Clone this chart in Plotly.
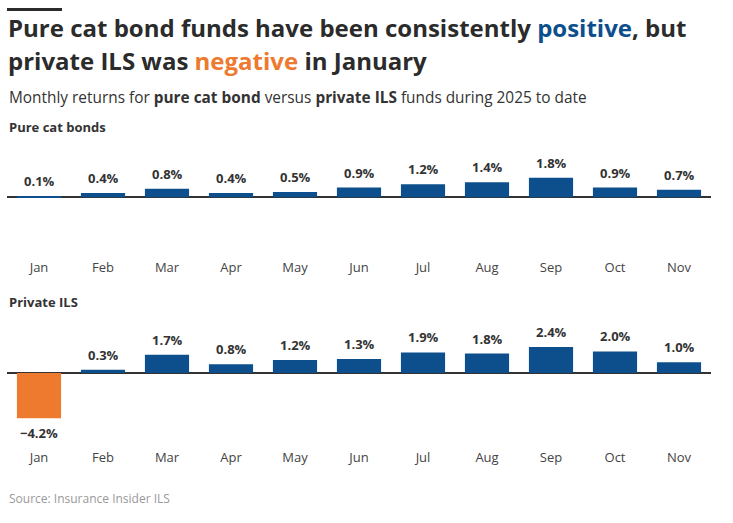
import plotly.graph_objects as go
from plotly.subplots import make_subplots

months = ["Jan", "Feb", "Mar", "Apr", "May", "Jun", "Jul", "Aug", "Sep", "Oct", "Nov"]
pure_cat = [0.1, 0.4, 0.8, 0.4, 0.5, 0.9, 1.2, 1.4, 1.8, 0.9, 0.7]
private_ils = [-4.2, 0.3, 1.7, 0.8, 1.2, 1.3, 1.9, 1.8, 2.4, 2.0, 1.0]

BLUE = "#0c4f8c"
ORANGE = "#ed7a2f"
TXT = "#333333"
FONT = "Open Sans"

W, H = 733, 523
ML, MR = 7, 22


def py(px):
    return 1 - px / H


def pxx(px):
    return (px - ML) / (W - ML - MR)


fig = make_subplots(rows=2, cols=1, shared_xaxes=False)

for row, vals in ((1, pure_cat), (2, private_ils)):
    colors = [ORANGE if v < 0 else BLUE for v in vals]
    fig.add_trace(go.Bar(x=months, y=vals, marker_color=colors, marker_line_width=0,
                         hoverinfo="x+y", showlegend=False), row=row, col=1)

# domains (pixel based)
PXPER = 10.8
top_dom = (140, 258, 197.3)
bot_dom = (315, 448, 373)
for i, (t, b, z) in enumerate((top_dom, bot_dom), start=1):
    ya = "yaxis" if i == 1 else "yaxis2"
    xa = "xaxis" if i == 1 else "xaxis2"
    fig.layout[ya].update(domain=[py(b), py(t)], range=[-(b - z) / PXPER, (z - t) / PXPER],
                          showgrid=False, showticklabels=False, zeroline=True,
                          zerolinecolor="#333333", zerolinewidth=1.5, fixedrange=True)
    fig.layout[xa].update(showgrid=False, showline=False, ticks="",
                          tickfont=dict(family=FONT, size=13, color="#444444"), fixedrange=True)

annotations = []
for row, vals in ((1, pure_cat), (2, private_ils)):
    xr = "x" if row == 1 else "x2"
    yr = "y" if row == 1 else "y2"
    for m, v in zip(months, vals):
        label = ("\u2212" if v < 0 else "") + f"{abs(v):.1f}%"
        annotations.append(dict(x=m, y=v, xref=xr, yref=yr, text=f"<b>{label}</b>",
                                showarrow=False, yanchor="middle",
                                yshift=15 if v >= 0 else -15,
                                font=dict(family=FONT, size=13, color=TXT)))

annotations += [
    dict(x=pxx(6), y=py(28), xref="paper", yref="paper", xanchor="left", yanchor="middle",
         text="<b>Pure cat bond funds have been consistently <span style='color:#0c4f8c'>positive</span>, but</b>",
         showarrow=False, font=dict(family=FONT, size=24, color="#2b2b2b")),
    dict(x=pxx(6), y=py(61), xref="paper", yref="paper", xanchor="left", yanchor="middle",
         text="<b>private ILS was <span style='color:#ed7a2f'>negative</span> in January</b>",
         showarrow=False, font=dict(family=FONT, size=24, color="#2b2b2b")),
    dict(x=0, y=py(97), xref="paper", yref="paper", xanchor="left", yanchor="middle",
         text="Monthly returns for <b>pure cat bond</b> versus <b>private ILS</b> funds during 2025 to date",
         showarrow=False, font=dict(family=FONT, size=15.4, color=TXT)),
    dict(x=0, y=py(127), xref="paper", yref="paper", xanchor="left", yanchor="middle",
         text="<b>Pure cat bonds</b>", showarrow=False, font=dict(family=FONT, size=13, color=TXT)),
    dict(x=0, y=py(302), xref="paper", yref="paper", xanchor="left", yanchor="middle",
         text="<b>Private ILS</b>", showarrow=False, font=dict(family=FONT, size=13, color=TXT)),
    dict(x=0, y=py(498), xref="paper", yref="paper", xanchor="left", yanchor="middle",
         text="Source: Insurance Insider ILS", showarrow=False,
         font=dict(family=FONT, size=12, color="#999999")),
]

fig.update_layout(
    width=W, height=H,
    margin=dict(l=ML, r=MR, t=0, b=0),
    paper_bgcolor="white", plot_bgcolor="white",
    bargap=0.31,
    font=dict(family=FONT, color=TXT),
    annotations=annotations,
    shapes=[dict(type="rect", xref="paper", yref="paper", x0=pxx(7), x1=pxx(62),
                 y0=py(11), y1=py(8), fillcolor="#2b2b2b", line_width=0)],
)

fig.write_html("out.html", config={"displayModeBar": False},
               post_script="document.body.style.margin='0px';")
